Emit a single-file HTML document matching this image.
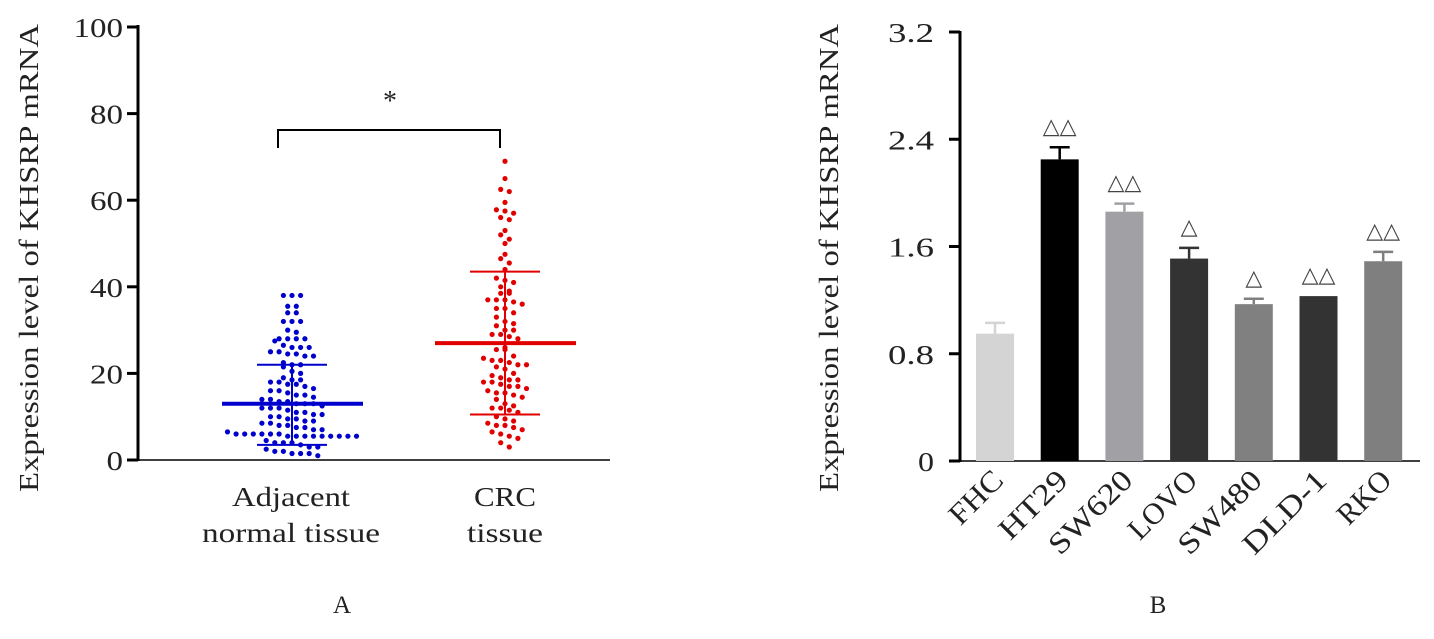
<!DOCTYPE html>
<html><head><meta charset="utf-8"><style>
body{margin:0;background:#fff;width:1434px;height:639px;overflow:hidden}
svg{display:block;font-family:"Liberation Serif",serif}
</style></head><body>
<svg id="c" width="1434" height="639"></svg>
<script>
const blueVals=[38,38,38,35.5,35.5,34,34,32,32,32,30,29.5,28,28,28,28,27.5,26.5,26,26,26,25,25,24.5,24.5,24,24,22.5,22,22,21.5,20.5,20,19,18.5,18.5,18,18,17.5,17.5,17,16.5,16,16,15.5,15,15,14.5,14,14,13.5,13.5,13,13,13,12.5,12,12,12,11.5,11,11,10.5,10.5,10,10,9.5,9.5,9,9,8.5,8.5,8,8,7.5,7.5,7,7,6.5,6,6,6,6,6,6,5.5,5.5,5.5,5.5,5.5,5.5,5.5,5.5,5.5,4.5,4,4,4,3.5,3,3,2.5,2,2,1.5,1.5,1.5,1];
const redVals=[69,65,62.5,62,59.5,57.8,57.5,57,56,55.5,53,52,51,50,47.5,46.5,45.5,44,42,41.5,41,40,39,38.5,38.5,37,37,37,36.5,36,35,35,34,33,32,31.5,31,30,30,29,29,28.5,28,26,25.5,25.5,24,23.5,23,23,22.5,22,22,21.5,21,20,19.5,19,18.5,18.5,18,18,17.5,17,17,16.5,16,15.5,15.5,15,14.5,14,13,12.5,12,12,11.5,11,10,9.5,9,8.5,8,8,7.5,7,6.5,6,5.5,5,4,3];
const groupStats=[{mean:13,hi:22,lo:3.5},{mean:27,hi:43.5,lo:10.5}];
const leftTicks=[0,20,40,60,80,100];
const cellLines=["FHC","HT29","SW620","LOVO","SW480","DLD-1","RKO"];
const cellVals=[0.95,2.25,1.86,1.51,1.17,1.23,1.49];
const cellErr=[0.08,0.09,0.06,0.08,0.04,0,0.07];
const cellMarks=["","△△","△△","△","△","△△","△△"];
const rightTicks=[0,0.8,1.6,2.4,3.2];
const cellColors=["#d4d4d4","#000","#a1a1a5","#333","#808080","#333","#7f7f7f"];

const svg=document.getElementById('c');const NS="http://www.w3.org/2000/svg";
function mk(t,a,name,par){const e=document.createElementNS(NS,t);for(const k in a)e.setAttribute(k,a[k]);


(par||svg).appendChild(e);return e;}
function tx(x,y,s,size,name,extra,len){const a=Object.assign({x:x,y:y,'font-size':size,fill:'#222'},extra||{});
if(len){a.textLength=len;a.lengthAdjust='spacingAndGlyphs';}
const e=mk('text',a,name);e.textContent=s;return e;}

// Left panel
const yL=v=>460-v*4.33;
mk('line',{x1:138,y1:25,x2:138,y2:461,stroke:'#000','stroke-width':3},'left-y-axis');
mk('line',{x1:137,y1:460,x2:610,y2:460,stroke:'#000','stroke-width':1.5},'left-x-axis');
leftTicks.forEach(t=>{mk('line',{x1:127,y1:yL(t),x2:138,y2:yL(t),stroke:'#000','stroke-width':3},'left-y-tick');
tx(123,yL(t)+10,t,27,'left-y-tick-label',{'text-anchor':'end'},String(t).length*16.5);});
tx(0,0,'Expression level of KHSRP mRNA',27,'left-y-axis-title',{transform:'translate(38,258) rotate(-90)','text-anchor':'middle'},468);
const centers=[292,505],cols=['#0000cc','#e00000'];
[blueVals,redVals].forEach((vals,g)=>{
  const rows={};vals.forEach(v=>{const r=Math.round(v/1.9);(rows[r]=rows[r]||[]).push(v);});
  for(const r in rows){const arr=rows[r];arr.forEach((v,i)=>{const off=(i-(arr.length-1)/2)*8.6;
    mk('circle',{cx:centers[g]+off,cy:yL(v),r:2.6,fill:cols[g]},g?'crc-point':'normal-point');});}
  const s=groupStats[g],c=centers[g];
  mk('line',{x1:c,y1:yL(s.hi),x2:c,y2:yL(s.lo),stroke:cols[g],'stroke-width':2},'sd-bar');
  mk('line',{x1:c-70,y1:yL(s.mean),x2:c+71,y2:yL(s.mean),stroke:cols[g],'stroke-width':4},'mean-line');
  [s.hi,s.lo].forEach(v=>mk('line',{x1:c-35,y1:yL(v),x2:c+35,y2:yL(v),stroke:cols[g],'stroke-width':2},'sd-cap'));
});
mk('path',{d:'M278,148 V130 H500 V148',fill:'none',stroke:'#000','stroke-width':2},'significance-bracket');
tx(390,110,'*',28,'significance-star',{'text-anchor':'middle'});
tx(291,506,'Adjacent',27,'x-label-normal',{'text-anchor':'middle'},118);
tx(291,542,'normal tissue',27,'x-label-normal-2',{'text-anchor':'middle'},178);
tx(505,506,'CRC',27,'x-label-crc',{'text-anchor':'middle'},62);
tx(505,542,'tissue',27,'x-label-crc-2',{'text-anchor':'middle'},76);
tx(342,613,'A',25,'panel-label-a',{'text-anchor':'middle'});

// Right panel
const yR=v=>461-v*134.06;
mk('line',{x1:960,y1:31,x2:960,y2:462,stroke:'#000','stroke-width':3},'right-y-axis');
mk('line',{x1:959,y1:461,x2:1420,y2:461,stroke:'#000','stroke-width':1.5},'right-x-axis');
rightTicks.forEach(t=>{mk('line',{x1:949,y1:yR(t),x2:960,y2:yR(t),stroke:'#000','stroke-width':3},'right-y-tick');
const s=t===0?'0':t.toFixed(1);
tx(934,yR(t)+10,s,27,'right-y-tick-label',{'text-anchor':'end'},s.length===1?16:46);});
tx(0,0,'Expression level of KHSRP mRNA',27,'right-y-axis-title',{transform:'translate(838,258) rotate(-90)','text-anchor':'middle'},468);
cellLines.forEach((n,i)=>{const cx=995+i*64.7,w=38;
  if(cellErr[i]>0){mk('line',{x1:cx,y1:yR(cellVals[i]),x2:cx,y2:yR(cellVals[i]+cellErr[i]),stroke:cellColors[i],'stroke-width':2.5},'error-bar');
  mk('line',{x1:cx-10,y1:yR(cellVals[i]+cellErr[i]),x2:cx+10,y2:yR(cellVals[i]+cellErr[i]),stroke:cellColors[i],'stroke-width':2.5},'error-cap');}
  mk('rect',{x:cx-w/2,y:yR(cellVals[i]),width:w,height:yR(0)-yR(cellVals[i]),fill:cellColors[i]},'bar-'+n.toLowerCase());
  if(cellMarks[i])tx(cx,yR(cellVals[i]+cellErr[i])-14,cellMarks[i],22,'significance-triangles',{'text-anchor':'middle',fill:'#444'});
  tx(0,0,n,30,'x-label-'+n.toLowerCase(),{transform:`translate(${cx+10},${482}) rotate(-45)`,'text-anchor':'end'},n.length*21);
});
tx(1158,613,'B',25,'panel-label-b',{'text-anchor':'middle'});
</script>
</body></html>
